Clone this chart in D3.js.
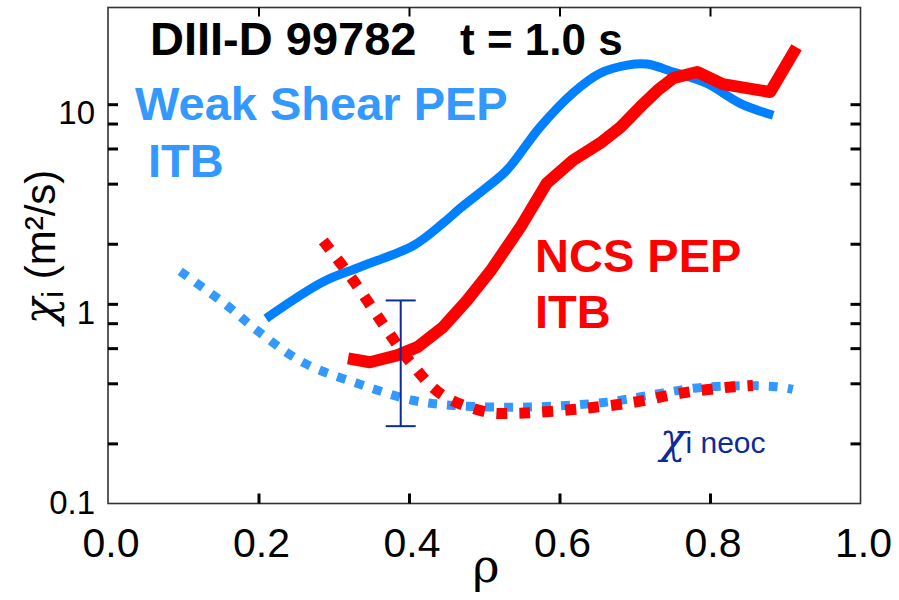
<!DOCTYPE html>
<html>
<head>
<meta charset="utf-8">
<script src="https://cdn.jsdelivr.net/npm/d3@7"></script>
<style>
  body { margin: 0; background: #fff; }
  svg { display: block; }
  text { font-family: "Liberation Sans", Arial, Helvetica, sans-serif; }
  .greek { font-family: "DejaVu Serif", serif; font-style: italic; }
</style>
</head>
<body>
<svg id="chart" width="899" height="600"></svg>
<script>
// values (rho, chi_i in m^2/s)
var weakRho = [0.210, 0.286, 0.335, 0.406, 0.445, 0.468, 0.500, 0.530, 0.574, 0.618, 0.654, 0.690, 0.716, 0.751, 0.796, 0.840, 0.884]
var weakChi = [0.845, 1.29, 1.53, 1.96, 2.53, 3.01, 3.75, 4.67, 7.67, 11.4, 14.3, 15.7, 15.9, 14.5, 12.7, 10.1, 8.8]

var ncsRho = [0.319, 0.348, 0.384, 0.411, 0.445, 0.477, 0.508, 0.548, 0.583, 0.618, 0.654, 0.681, 0.707, 0.730, 0.751, 0.783, 0.817, 0.880, 0.915]
var ncsChi = [0.533, 0.51, 0.552, 0.607, 0.763, 1.04, 1.455, 2.42, 4.02, 5.24, 6.38, 7.67, 9.66, 11.7, 13.5, 14.5, 12.6, 11.5, 19.3]

var weakNeoRho = [0.096, 0.158, 0.198, 0.259, 0.331, 0.406, 0.459, 0.557, 0.663, 0.734, 0.791, 0.884, 0.910]
var weakNeoChi = [1.455, 0.983, 0.736, 0.509, 0.40, 0.328, 0.31, 0.304, 0.322, 0.356, 0.382, 0.386, 0.373]

var ncsNeoRho = [0.286, 0.326, 0.364, 0.402, 0.445, 0.505, 0.537, 0.570, 0.631, 0.698, 0.760, 0.824, 0.857]
var ncsNeoChi = [2.07, 1.31, 0.808, 0.509, 0.348, 0.286, 0.283, 0.286, 0.299, 0.321, 0.356, 0.382, 0.39]

var errRho = 0.389
var errLow = 0.244
var errHigh = 1.04

var xTicks = [0, 0.2, 0.4, 0.6, 0.8, 1.0]
var xTickLabels = ["0.0", "0.2", "0.4", "0.6", "0.8", "1.0"]
var yMinorTicks = [0.2, 0.4, 0.6, 0.8, 1, 2, 4, 6, 8, 10]
var yLabelTicks = [0.1, 1, 10]
var yTickLabels = ["0.1", "1", "10"]

var dims = { width: 899, height: 600, left: 108, right: 860.5, top: 7.5, bottom: 503.5 }

var svg = d3.select("#chart")

var xScale = d3.scaleLinear()
    .domain([0, 1])
    .range([dims.left, dims.right])

var yScale = d3.scaleLog()
    .domain([0.1, 30.5])
    .range([dims.bottom, dims.top])

var zip = (xs, ys) => xs.map((x, i) => [x, ys[i]])

var smooth = d3.line()
    .x(d => xScale(d[0]))
    .y(d => yScale(d[1]))
    .curve(d3.curveCatmullRom.alpha(0.5))

var straight = d3.line()
    .x(d => xScale(d[0]))
    .y(d => yScale(d[1]))

// frame
svg.append("rect")
    .attr("x", dims.left)
    .attr("y", dims.top)
    .attr("width", dims.right - dims.left)
    .attr("height", dims.bottom - dims.top)
    .attr("fill", "none")
    .attr("stroke", "#333")
    .attr("stroke-width", 1.6)

// inward ticks
var tickY = d3.axisLeft(yScale).tickValues(yMinorTicks).tickSize(-10).tickFormat("")
svg.append("g").attr("transform", `translate(${dims.left},0)`).call(tickY)
var tickYR = d3.axisRight(yScale).tickValues(yMinorTicks).tickSize(-10).tickFormat("")
svg.append("g").attr("transform", `translate(${dims.right},0)`).call(tickYR)
var tickXB = d3.axisBottom(xScale).tickValues([0.2, 0.4, 0.6, 0.8]).tickSize(-10).tickFormat("")
svg.append("g").attr("transform", `translate(0,${dims.bottom})`).call(tickXB)
var tickXT = d3.axisTop(xScale).tickValues([0.2, 0.4, 0.6, 0.8]).tickSize(-9).tickFormat("")
svg.append("g").attr("class", "toptick").attr("transform", `translate(0,${dims.top})`).call(tickXT)

svg.selectAll(".domain").remove()
svg.selectAll(".tick line").attr("stroke", "#000").attr("stroke-width", 3)
svg.selectAll(".toptick .tick line").attr("stroke-width", 2)

// tick labels
svg.selectAll(".xlab")
    .data(xTicks)
    .enter()
    .append("text")
    .attr("x", d => xScale(d) + 3)
    .attr("y", 557)
    .attr("text-anchor", "middle")
    .style("font-size", "41px")
    .text((d, i) => xTickLabels[i])

svg.selectAll(".ylab")
    .data(yLabelTicks)
    .enter()
    .append("text")
    .attr("x", 95)
    .attr("y", d => yScale(d) + (d < 0.5 ? 10 : 20))
    .attr("text-anchor", "end")
    .style("font-size", "33px")
    .text((d, i) => yTickLabels[i])

// axis titles
var yTitle = svg.append("text")
    .attr("transform", "translate(55,247) rotate(-90)")
    .attr("text-anchor", "middle")
    .style("font-size", "42px")
yTitle.append("tspan").attr("class", "greek").style("font-size", "44px").text("χ")
yTitle.append("tspan").attr("dy", 8).style("font-size", "30px").text("i")
yTitle.append("tspan").attr("dy", -8).text(" (m²/s)")

svg.append("text")
    .attr("x", 486)
    .attr("y", 582)
    .attr("text-anchor", "middle")
    .style("font-size", "46px")
    .style("font-family", "DejaVu Serif, serif")
    .text("ρ")

// curves
svg.append("path")
    .attr("d", smooth(zip(weakNeoRho, weakNeoChi)))
    .attr("fill", "none")
    .attr("stroke", "#3399ff")
    .attr("stroke-width", 9)
    .attr("stroke-dasharray", "9 10")

svg.append("path")
    .attr("d", smooth(zip(ncsNeoRho, ncsNeoChi)))
    .attr("fill", "none")
    .attr("stroke", "#ff0000")
    .attr("stroke-width", 11)
    .attr("stroke-dasharray", "11 12")

svg.append("path")
    .attr("d", smooth(zip(weakRho, weakChi)))
    .attr("fill", "none")
    .attr("stroke", "#0080ff")
    .attr("stroke-width", 9)

svg.append("path")
    .attr("d", straight(zip(ncsRho, ncsChi)))
    .attr("fill", "none")
    .attr("stroke", "#ff0000")
    .attr("stroke-width", 12)
    .attr("stroke-linejoin", "round")

// error bar
var eb = svg.append("g").attr("stroke", "#0d2b9b").attr("stroke-width", 2)
eb.append("line")
    .attr("x1", xScale(errRho)).attr("x2", xScale(errRho))
    .attr("y1", yScale(errHigh)).attr("y2", yScale(errLow))
eb.selectAll(".cap")
    .data([errLow, errHigh])
    .enter()
    .append("line")
    .attr("x1", xScale(errRho) - 15).attr("x2", xScale(errRho) + 15)
    .attr("y1", d => yScale(d)).attr("y2", d => yScale(d))

// annotations
svg.append("text")
    .attr("x", 150).attr("y", 55)
    .style("font-size", "47px").style("font-weight", "bold")
    .text("DIII-D 99782")
svg.append("text")
    .attr("x", 460).attr("y", 55)
    .style("font-size", "44px").style("font-weight", "bold")
    .text("t = 1.0 s")

svg.append("text")
    .attr("x", 135).attr("y", 120)
    .style("font-size", "47px").style("font-weight", "bold")
    .attr("fill", "#3399ff")
    .text("Weak Shear PEP")
svg.append("text")
    .attr("x", 148).attr("y", 177)
    .style("font-size", "47px").style("font-weight", "bold")
    .attr("fill", "#3399ff")
    .text("ITB")

svg.append("text")
    .attr("x", 535).attr("y", 272)
    .style("font-size", "47px").style("font-weight", "bold")
    .attr("fill", "#ff0000")
    .text("NCS PEP")
svg.append("text")
    .attr("x", 535).attr("y", 328)
    .style("font-size", "47px").style("font-weight", "bold")
    .attr("fill", "#ff0000")
    .text("ITB")

var neo = svg.append("text")
    .attr("x", 660).attr("y", 453)
    .attr("fill", "#0d2b9b")
neo.append("tspan").attr("class", "greek").style("font-size", "42px").text("χ")
neo.append("tspan").style("font-size", "30px").text("i neoc")
</script>
</body>
</html>
